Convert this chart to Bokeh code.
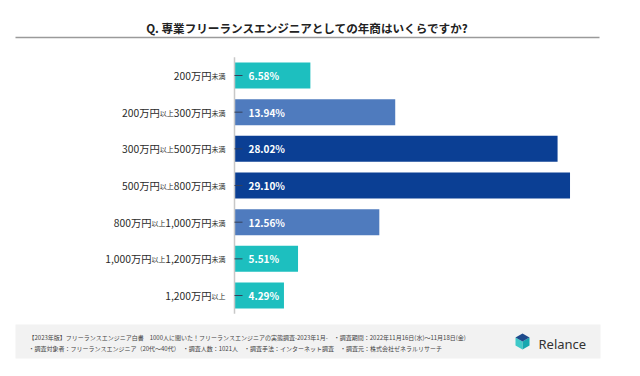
import re
from bokeh.plotting import figure
from bokeh.models import Range1d, ColumnDataSource
from bokeh.core.properties import value
from bokeh.embed import file_html
from bokeh.resources import INLINE

# ---- data ----
categories = ["200万円未満", "200万円以上300万円未満", "300万円以上500万円未満",
              "500万円以上800万円未満", "800万円以上1,000万円未満",
              "1,000万円以上1,200万円未満", "1,200万円以上"]
values = [6.58, 13.94, 28.02, 29.10, 12.56, 5.51, 4.29]
bar_colors = ["#1DBFBF", "#4F7BBE", "#0B3F94", "#0B3F94", "#4F7BBE", "#1DBFBF", "#1DBFBF"]
title_text = "Q. 専業フリーランスエンジニアとしての年商はいくらですか?"
footer_line1 = "【2023年版】フリーランスエンジニア白書　1000人に聞いた！フリーランスエンジニアの実態調査-2023年1月-　・調査期間：2022年11月16日(水)〜11月18日(金)"
footer_line2 = "・調査対象者：フリーランスエンジニア（20代〜40代）　・調査人数：1021人　・調査手法：インターネット調査　・調査元：株式会社ゼネラルリサーチ"
brand = "Relance"

# ---- layout (pixels -> data helpers) ----
W, H = 624, 360
X0, SX = 234.0, 11.53     # px of x=0, px per %
Y0, SY = 75.0, 36.67      # px of row 0 centre, px per row

def dx(px):
    return (px - X0) / SX

def dy(py):
    return (py - Y0) / SY

JP = "Noto Sans CJK JP"
BIG, SMALL = 10.3, 7.0

def est_width(s, size):
    w = 0.0
    for ch in s:
        if ch.isdigit():
            w += 0.555
        elif ch == ",":
            w += 0.24
        else:
            w += 1.0
    return w * size

p = figure(width=W, height=H, output_backend="svg", toolbar_location=None,
           x_range=Range1d(dx(0), dx(W)), y_range=Range1d(dy(H), dy(0)),
           x_axis_location=None, y_axis_location=None, min_border=0,
           outline_line_color=None, background_fill_color="white",
           border_fill_color="white")
p.grid.visible = False

idx = list(range(len(categories)))
src = ColumnDataSource(dict(
    y=idx, v=values, c=bar_colors,
    lbl=[f"{v:.2f}%" for v in values], zero=[0] * len(values),
    tick_end=[8 / SX] * len(values)))

# bars
p.hbar(y="y", left=0, right="v", height=0.71, fill_color="c", line_color=None, source=src)

# axis line and ticks
p.segment(x0=0, y0=-0.5, x1=0, y1=len(categories) - 0.5, line_color="#C8C8C8", line_width=1.5)
p.segment(x0="zero", y0="y", x1="tick_end", y1="y", line_color="#34405A", line_width=1, source=src)

# category labels: numbers larger, 以上/未満 smaller (right-aligned, built right to left)
for i, cat in enumerate(categories):
    parts = [s for s in re.split(r"(以上|未満)", cat) if s]
    off = -9.0
    for part in reversed(parts):
        small = part in ("以上", "未満")
        size = SMALL if small else BIG
        p.text(x=[0], y=[i], text=[part], x_offset=off, y_offset=(0.6 if small else 0),
               text_align="right", text_baseline="middle", text_font=value(JP),
               text_font_size=f"{size}px", text_color="#2A2A2A")
        off -= est_width(part, size)

# value labels
p.text(x="zero", y="y", text="lbl", source=src, x_offset=14, text_align="left",
       text_baseline="middle", text_font=value(JP), text_font_size="10px",
       text_font_style="bold", text_color="white")

# title and rule
p.text(x=[dx(307)], y=[dy(27)], text=[title_text], text_align="center", text_baseline="middle",
       text_font=value(JP), text_font_size="11.6px", text_font_style="bold", text_color="#222222")
p.segment(x0=dx(15), y0=dy(37), x1=dx(599), y1=dy(37), line_color="#9A9A9A", line_width=1.5)

# footer box
p.quad(left=dx(15), right=dx(600), top=dy(324), bottom=dy(358), fill_color="#F2F2F2", line_color=None)
p.text(x=[dx(28), dx(28)], y=[dy(337), dy(348)], text=[footer_line1, footer_line2],
       text_align="left", text_baseline="middle", text_font=value(JP),
       text_font_size="6px", text_color="#444444")

# logo
cx, cy = 522, 341
top = (cx, cy - 8); ur = (cx + 7, cy - 4); lr = (cx + 7, cy + 4)
bot = (cx, cy + 8); ll = (cx - 7, cy + 4); ul = (cx - 7, cy - 4); ctr = (cx, cy)
faces = [[ul, ctr, bot, ll], [ctr, ur, lr, bot], [ul, top, ur, ctr]]
p.patches(xs=[[dx(a) for a, b in f] for f in faces], ys=[[dy(b) for a, b in f] for f in faces],
          fill_color=["#3FC9C9", "#17A7B0", "#1E4A8C"], line_color=None)
p.text(x=[dx(538)], y=[dy(343)], text=[brand], text_align="left", text_baseline="middle",
       text_font=value("Noto Sans"), text_font_size="13px", text_color="#333333")

open("out.html", "w").write(file_html(p, INLINE))
